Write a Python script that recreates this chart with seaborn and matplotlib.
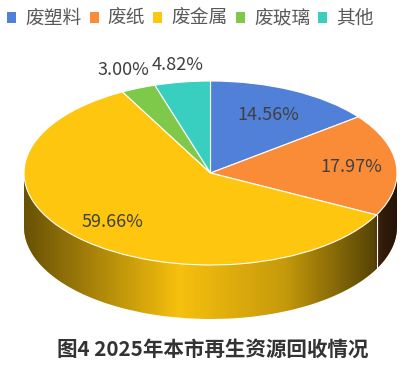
import matplotlib
matplotlib.use("Agg")
import matplotlib.pyplot as plt
import numpy as np
import seaborn as sns
from matplotlib.patches import Polygon
from matplotlib.colors import to_rgb

categories = ["废塑料", "废纸", "废金属", "废玻璃", "其他"]
shares = [14.56, 17.97, 59.66, 3.00, 4.82]
colors = ["#5080d8", "#fa8c38", "#fec60e", "#7ec94a", "#38cfc0"]
title = "图4 2025年本市再生资源回收情况"


def main():
    sns.set_theme(style="white")
    plt.rcParams["font.family"] = ["Noto Sans CJK SC", "DejaVu Sans"]

    W, H = 404, 372
    cx, cy, rx, ry = 210.5, 173.0, 186.5, 92.0
    depth = 54.0 / ry

    fig = plt.figure(figsize=(W / 100, H / 100), dpi=100)
    ax = fig.add_axes([0, 0, 1, 1])

    # side walls: stacked pies, darker colours
    side_cols = [tuple(c * 0.97 for c in to_rgb(col)) for col in colors]
    n_layers = 70
    for i in range(n_layers):
        off = -depth * (1 - i / n_layers)
        ax.pie(shares, colors=side_cols, startangle=90, counterclock=False,
               center=(0, off), radius=1, wedgeprops=dict(linewidth=0))

    # horizontal shading over the side
    t = np.linspace(np.pi, 2 * np.pi, 200)
    pts = [(-1, 0), (1, 0)] + [(np.cos(a), np.sin(a) - depth) for a in t[::-1]]
    clip = Polygon(pts, closed=True, transform=ax.transData, facecolor="none", edgecolor="none")
    ax.add_patch(clip)
    xs = np.linspace(-1, 1, 400)
    alpha = np.interp(xs, [-1.0, -0.6, -0.17, 0.4, 0.88, 0.92, 1.0],
                      [0.58, 0.3, 0.0, 0.2, 0.65, 0.8, 0.85])
    grad = np.zeros((2, len(xs), 4))
    grad[..., 3] = alpha
    im = ax.imshow(grad, extent=(-1, 1, -depth - 1, 0.5), aspect="auto",
                   interpolation="bilinear", zorder=1.5)
    im.set_clip_path(clip)

    # seams on the side
    edges = np.cumsum([0] + shares[:-1])
    for e in edges:
        ang = np.deg2rad(90 - e * 3.6)
        x, y = np.cos(ang), np.sin(ang)
        if y < 0:
            ax.plot([x, x], [y, y - depth], color="white", lw=0.8, zorder=1.6)

    # top face
    wedges, _ = ax.pie(shares, colors=colors, startangle=90, counterclock=False,
                       center=(0, 0), radius=1,
                       wedgeprops=dict(linewidth=0.8, edgecolor="white", zorder=2))

    # labels
    dist = [0.70, 0.76, 0.75, 1.21, 1.19]
    mids = np.cumsum(shares) - np.array(shares) / 2
    for v, m, d in zip(shares, mids, dist):
        ang = np.deg2rad(90 - m * 3.6)
        ax.text(d * np.cos(ang), d * np.sin(ang), f"{v:.2f}%", ha="center", va="center",
                fontsize=13, color="#404040", fontweight="light", zorder=5)

    ax.set_aspect("auto")
    ax.set_xlim(-cx / rx, (W - cx) / rx)
    ax.set_ylim((cy - H) / ry, cy / ry)
    ax.axis("off")

    leg = fig.legend(wedges, categories, loc="upper left", bbox_to_anchor=(7 / W, 1 - 8 / H),
                     ncol=5, frameon=False, prop=dict(size=13.5, weight="light"),
                     handlelength=0.48, handleheight=0.48, borderpad=0, borderaxespad=0,
                     handletextpad=0.5, columnspacing=0.42)
    for txt in leg.get_texts():
        txt.set_color("#595959")
    for h in leg.legend_handles:
        h.set_edgecolor("none")

    fig.text(0.526, 1 - 349 / H, title, ha="center", va="center", fontsize=14.8,
             fontweight="bold", color="#333333")

    fig.savefig("out.png", dpi=100)


if __name__ == "__main__":
    main()
